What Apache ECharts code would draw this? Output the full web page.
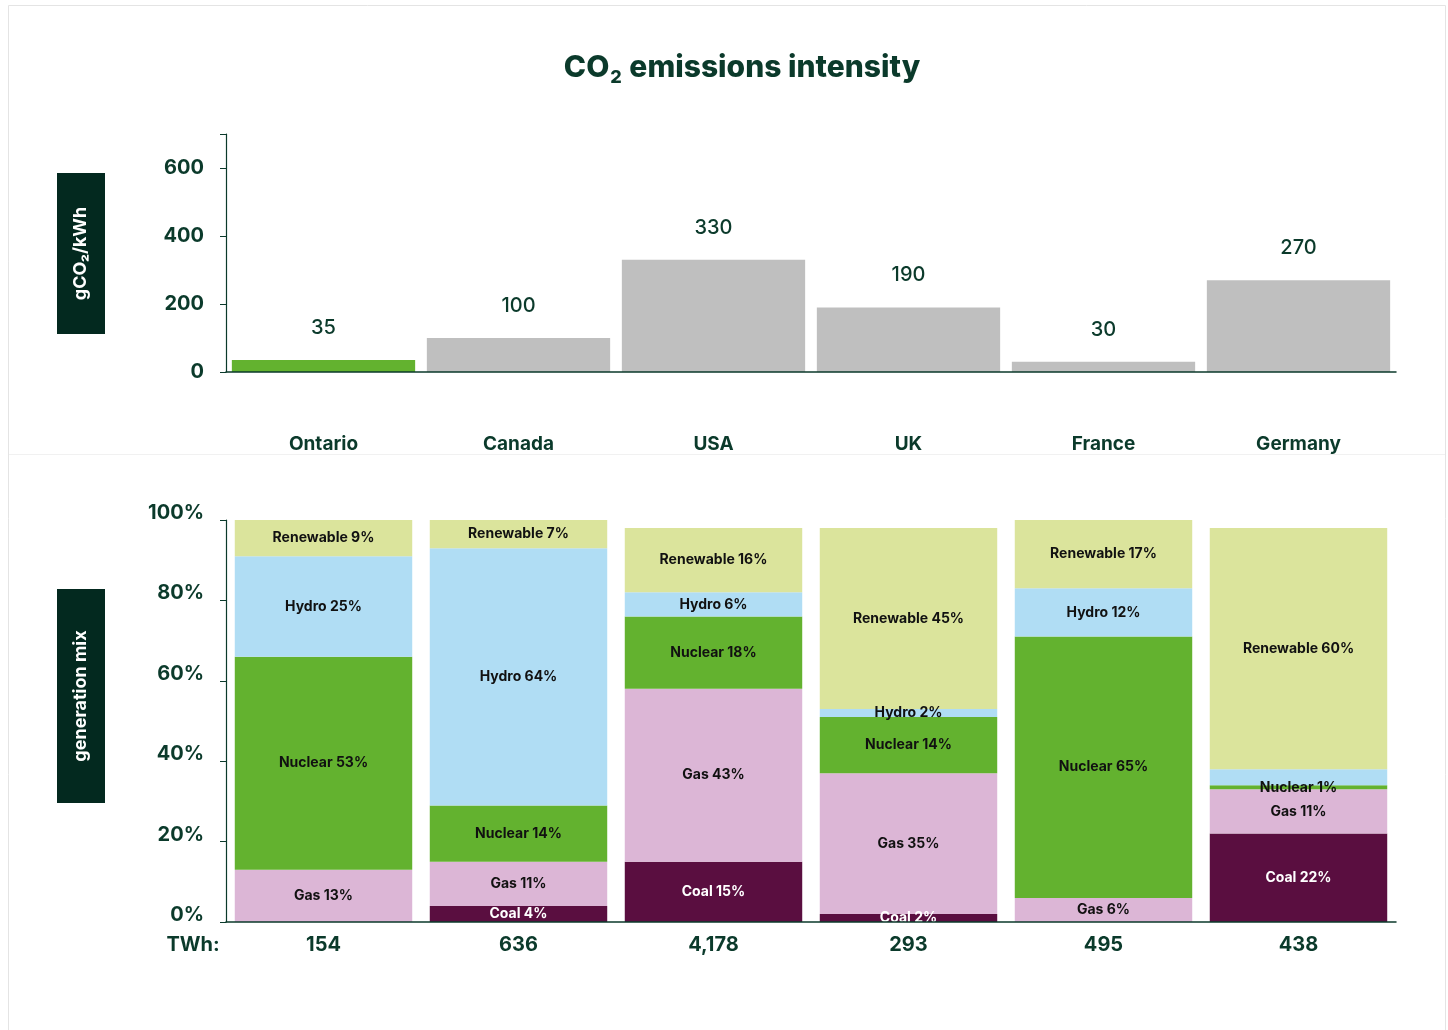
<!DOCTYPE html>
<html>
<head>
<meta charset="utf-8">
<script src="https://cdn.jsdelivr.net/npm/echarts@6/dist/echarts.min.js"></script>
<style>
  html, body { margin: 0; padding: 0; background: #fff; }
  #chart { width: 1448px; height: 1030px; }
</style>
</head>
<body>
<div id="chart"></div>
<script>
// Regions compared in both panels
const regions = ['Ontario', 'Canada', 'USA', 'UK', 'France', 'Germany'];

// CO2 emissions intensity, gCO2/kWh
const intensity = [35, 100, 330, 190, 30, 270];

// Annual generation, TWh (shown under the mix bars)
const twhLabels = ['154', '636', '4,178', '293', '495', '438'];

// Generation mix shares, % (bottom to top of each stack)
const coal      = [0, 4, 15, 2, 0, 22];
const gas       = [13, 11, 43, 35, 6, 11];
const nuclear   = [53, 14, 18, 14, 65, 1];
const hydro     = [25, 64, 6, 2, 12, 4];
const renewable = [9, 7, 16, 45, 17, 60];

// Intensity axis ticks
const intensityTicks = [0, 200, 400, 600];
// Mix axis ticks
const mixTicks = [0, 20, 40, 60, 80, 100];

const DARK = '#0b3a2b';
const BOX = '#03291f';
const FONT = 'Inter, "Noto Sans", sans-serif';

const mixColors = {
  Coal: '#5a0e40',
  Gas: '#dcb6d6',
  Nuclear: '#63b22f',
  Hydro: '#b0ddf4',
  Renewable: '#dbe49c'
};
const mixSeries = [
  ['Coal', coal],
  ['Gas', gas],
  ['Nuclear', nuclear],
  ['Hydro', hydro],
  ['Renewable', renewable]
];
// cells drawn without a text label
const unlabelled = { Hydro: ['Germany'] };

const chart = echarts.init(document.getElementById('chart'), null, { renderer: 'canvas' });

const mix = mixSeries.map(([name, values]) => ({
  name: name,
  type: 'bar',
  stack: 'mix',
  xAxisIndex: 1,
  yAxisIndex: 1,
  barCategoryGap: '9%',
  itemStyle: { color: mixColors[name] },
  data: values.map((v, i) => ({
    value: v > 0 ? v : null,
    label: { show: v > 0 && !((unlabelled[name] || []).includes(regions[i])) }
  })),
  label: {
    position: 'inside',
    formatter: p => name + ' ' + p.value + '%',
    fontFamily: FONT,
    fontWeight: 'bold',
    fontSize: 14,
    color: name === 'Coal' ? '#ffffff' : '#111111'
  }
}));

const option = {
  animation: false,
  backgroundColor: '#ffffff',
  grid: [
    { left: 226, right: 52, top: 134, bottom: 658 },
    { left: 226, right: 52, top: 520, bottom: 108 }
  ],
  xAxis: [
    {
      type: 'category',
      gridIndex: 0,
      data: regions,
      z: 5,
      axisLine: { lineStyle: { color: DARK, width: 1.5 } },
      axisTick: { inside: true, length: 8, lineStyle: { color: DARK } },
      axisLabel: { margin: 63, fontFamily: FONT, fontWeight: 'bold', fontSize: 19, color: DARK }
    },
    {
      type: 'category',
      gridIndex: 1,
      data: regions,
      z: 5,
      axisLine: { lineStyle: { color: DARK, width: 1.5 } },
      axisTick: { inside: true, length: 9, lineStyle: { color: DARK } },
      axisLabel: {
        margin: 13,
        fontFamily: FONT, fontWeight: 'bold', fontSize: 20, color: DARK,
        formatter: (v, i) => twhLabels[i]
      }
    }
  ],
  yAxis: [
    {
      type: 'value',
      gridIndex: 0,
      min: 0,
      max: 700,
      interval: 200,
      splitLine: { show: false },
      axisLine: { show: true, lineStyle: { color: DARK, width: 1.2 } },
      axisTick: { show: true, length: 6, lineStyle: { color: DARK } },
      axisLabel: {
        margin: 22,
        fontFamily: FONT, fontWeight: 'bold', fontSize: 20, color: DARK,
        formatter: v => intensityTicks.includes(v) ? String(v) : ''
      }
    },
    {
      type: 'value',
      gridIndex: 1,
      min: 0,
      max: 100,
      interval: 20,
      splitLine: { show: false },
      axisLine: { show: true, lineStyle: { color: DARK, width: 1.2 } },
      axisTick: { show: true, length: 6, lineStyle: { color: DARK } },
      axisLabel: {
        margin: 22,
        verticalAlign: 'bottom',
        lineHeight: 14,
        fontFamily: FONT, fontWeight: 'bold', fontSize: 20, color: DARK,
        formatter: v => mixTicks.includes(v) ? v + '%' : ''
      }
    }
  ],
  series: [
    {
      name: 'Intensity',
      type: 'bar',
      xAxisIndex: 0,
      yAxisIndex: 0,
      barCategoryGap: '6%',
      data: intensity.map((v, i) => ({
        value: v,
        itemStyle: { color: regions[i] === 'Ontario' ? '#63b22f' : '#bfbfbf' }
      })),
      label: {
        show: true,
        position: 'top',
        distance: 22,
        fontFamily: FONT,
        fontWeight: 500,
        fontSize: 20,
        color: DARK
      }
    }
  ].concat(mix),
  graphic: [
    // page frame
    { type: 'rect', shape: { x: 8.5, y: 5.5, width: 1437, height: 1040 },
      style: { fill: 'none', stroke: '#e4e4e4', lineWidth: 1 }, silent: true },
    // faint divider between the panels
    { type: 'line', shape: { x1: 9, y1: 454.5, x2: 1445, y2: 454.5 },
      style: { stroke: '#f1f1f1', lineWidth: 1 }, silent: true },
    // chart title with subscript
    { type: 'text', x: 742, y: 68,
      style: {
        text: '{a|CO}{s|2}{a| emissions intensity}',
        align: 'center', verticalAlign: 'middle',
        rich: {
          a: { fontFamily: FONT, fontWeight: 800, fontSize: 30, fill: DARK, lineHeight: 36 },
          s: { fontFamily: FONT, fontWeight: 800, fontSize: 18, fill: DARK, lineHeight: 36, padding: [20, 1, 0, 1] }
        }
      } },
    // unit badge, top panel
    { type: 'rect', shape: { x: 57, y: 173, width: 48, height: 161 }, style: { fill: BOX } },
    { type: 'text', x: 81, y: 253.5, rotation: Math.PI / 2,
      style: { text: 'gCO₂/kWh', fill: '#ffffff', fontFamily: FONT, fontWeight: 'bold', fontSize: 18,
               align: 'center', verticalAlign: 'middle' } },
    // unit badge, bottom panel
    { type: 'rect', shape: { x: 57, y: 589, width: 48, height: 214 }, style: { fill: BOX } },
    { type: 'text', x: 81, y: 696, rotation: Math.PI / 2,
      style: { text: 'generation mix', fill: '#ffffff', fontFamily: FONT, fontWeight: 'bold', fontSize: 18,
               align: 'center', verticalAlign: 'middle' } },
    // row caption for the TWh values
    { type: 'text', x: 193, y: 945,
      style: { text: 'TWh:', fill: DARK, fontFamily: FONT, fontWeight: 'bold', fontSize: 20,
               align: 'center', verticalAlign: 'middle' } }
  ]
};

chart.setOption(option);
</script>
</body>
</html>
